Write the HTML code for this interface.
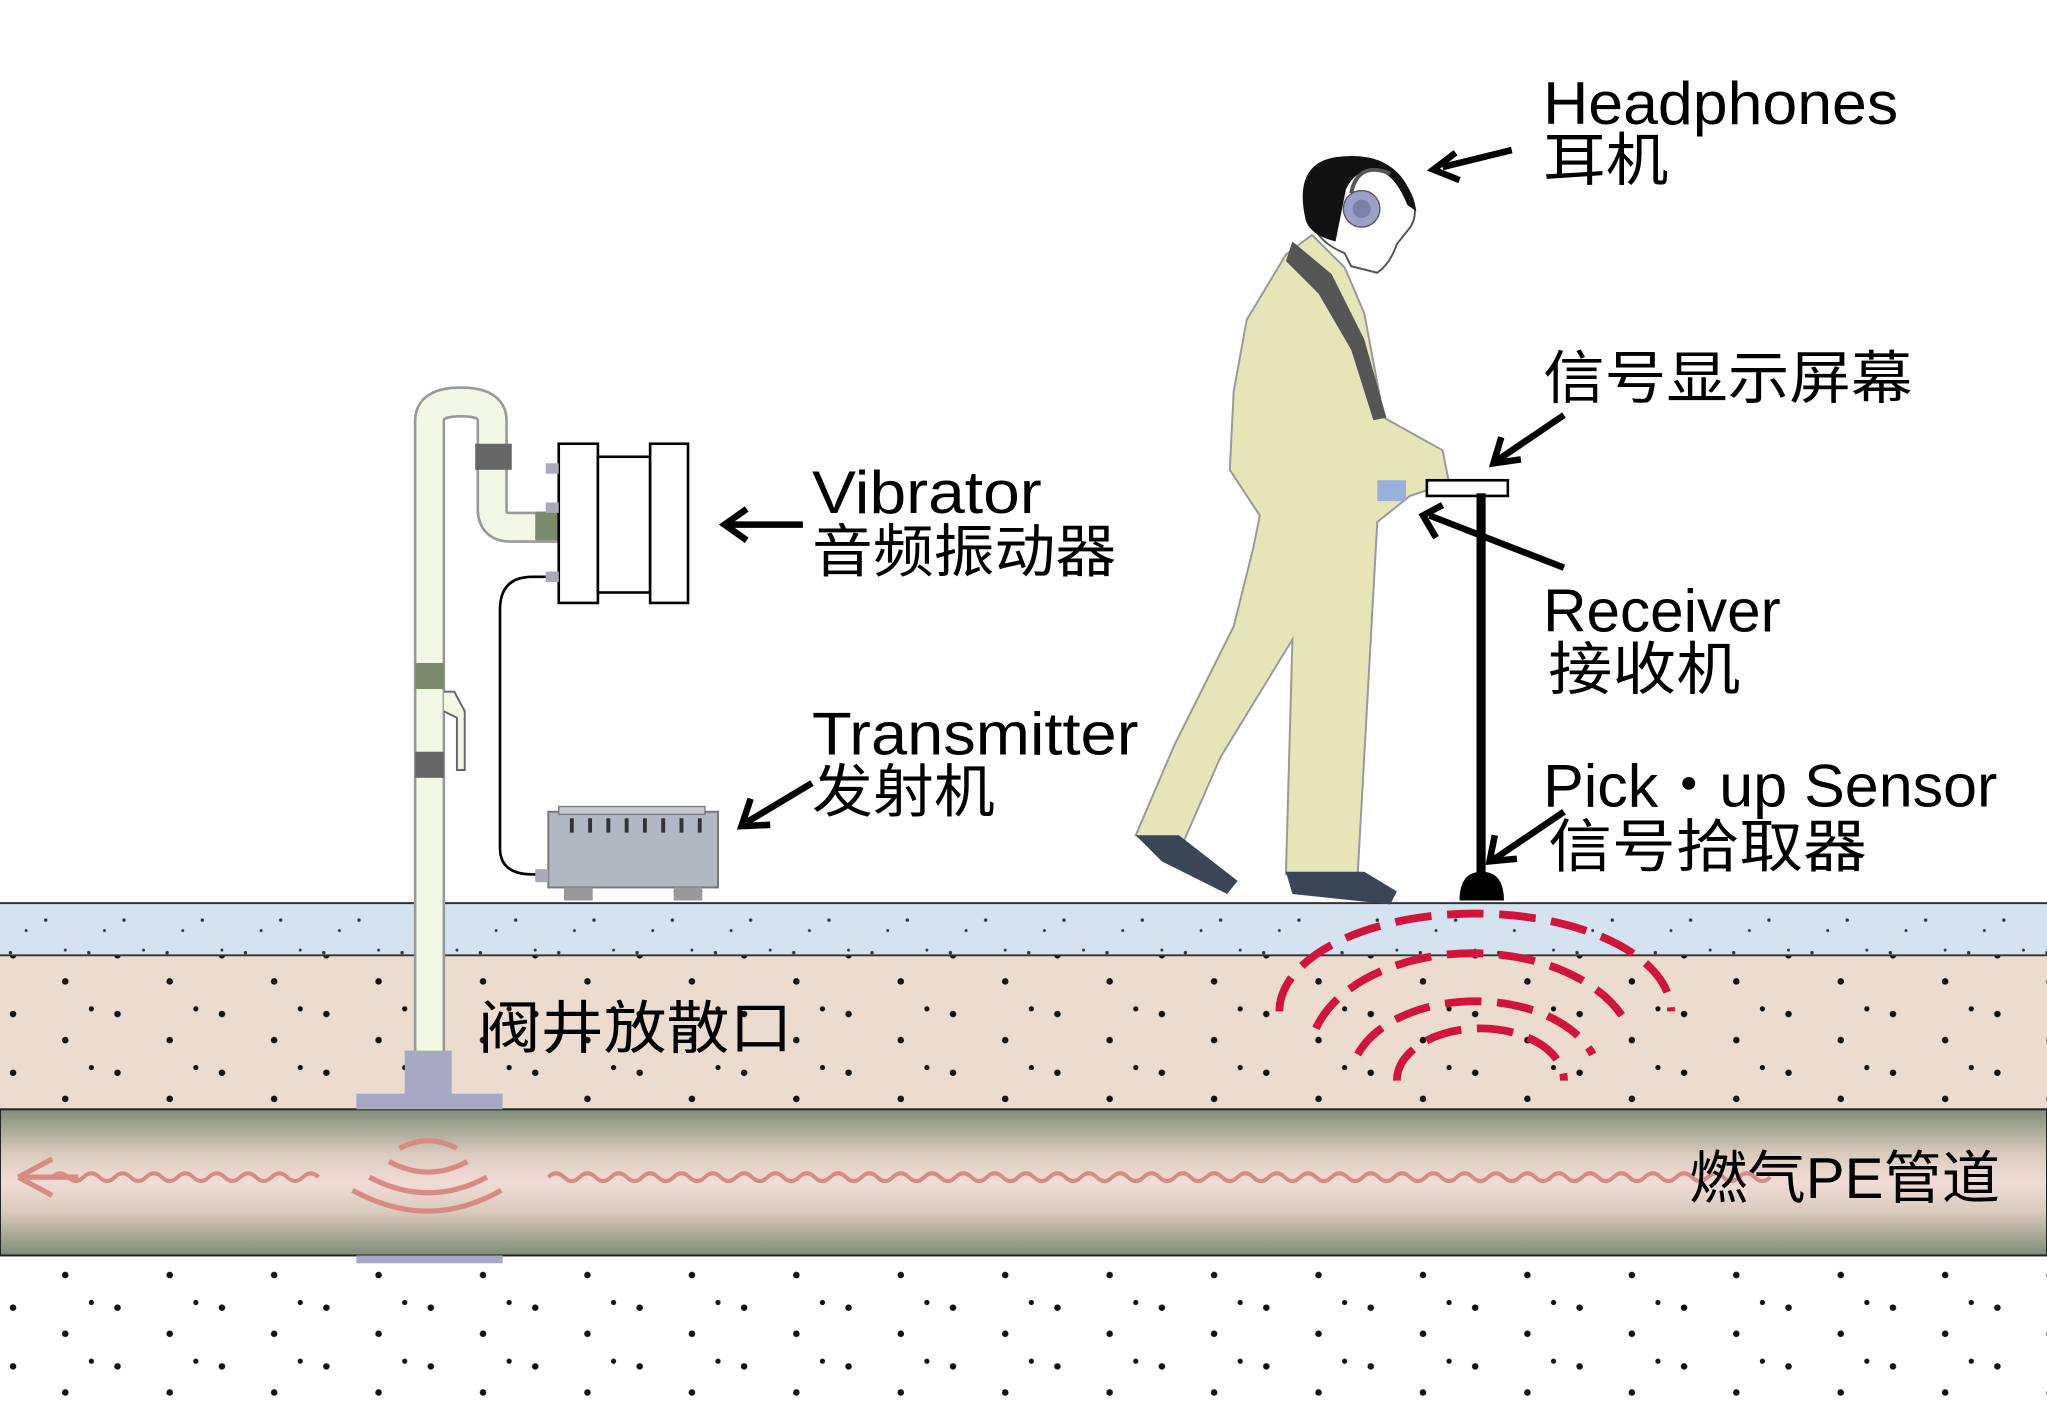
<!DOCTYPE html>
<html><head><meta charset="utf-8"><style>
html,body{margin:0;padding:0;background:#fff;width:2047px;height:1416px;overflow:hidden}
svg{display:block}
text{font-family:"Liberation Sans","Noto Sans CJK SC",sans-serif;fill:#000}
</style></head><body>
<svg width="2047" height="1416" viewBox="0 0 1568 1085" preserveAspectRatio="none" xmlns="http://www.w3.org/2000/svg">
<defs>
<linearGradient id="pg" x1="0" y1="0" x2="0" y2="1">
<stop offset="0" stop-color="#7f8c78"/><stop offset="0.3" stop-color="#d9cbbd"/><stop offset="0.5" stop-color="#f2dcd6"/><stop offset="0.7" stop-color="#d9cbbd"/><stop offset="1" stop-color="#7f8c78"/>
</linearGradient>
<pattern id="dots1" width="60" height="40" patternUnits="userSpaceOnUse">
<circle cx="8" cy="10" r="1.3" fill="#333"/><circle cx="35" cy="25" r="1.3" fill="#333"/><circle cx="50" cy="8" r="1.1" fill="#333"/><circle cx="20" cy="33" r="1.1" fill="#333"/></pattern>
<pattern id="dots2" width="80" height="45" patternUnits="userSpaceOnUse">
<circle cx="10" cy="12" r="2.5" fill="#111"/><circle cx="50" cy="32" r="2.5" fill="#111"/><circle cx="70" cy="8" r="2" fill="#111"/></pattern>
</defs>
<rect width="1568" height="1085" fill="#fff"/>
<rect x="0" y="692" width="1568" height="40" fill="#d5e2ef"/>
<rect x="0" y="692" width="1568" height="40" fill="url(#dots1)"/>
<rect x="0" y="732" width="1568" height="118" fill="#ecdcd0"/>
<rect x="0" y="732" width="1568" height="118" fill="url(#dots2)"/>
<rect x="0" y="962" width="1568" height="123" fill="url(#dots2)"/>
<line x1="0" y1="692" x2="1568" y2="692" stroke="#333" stroke-width="1.5"/>
<line x1="0" y1="732" x2="1568" y2="732" stroke="#333" stroke-width="1.5"/>
<rect x="0" y="850" width="1568" height="112" fill="url(#pg)" stroke="#222" stroke-width="1.5"/>
<!-- pipe waves -->
<path d="M40 902 q6 -6 12 0 t12 0 t12 0 t12 0 t12 0 t12 0 t12 0 t12 0 t12 0 t12 0 t12 0 t12 0 t12 0 t12 0 t12 0 t12 0 t12 0" fill="none" stroke="#d88a84" stroke-width="3"/>
<path d="M14 902 L40 888 M14 902 L40 916 M14 902 L60 902" stroke="#d88a84" stroke-width="4" fill="none"/>
<path d="M420 902 q6 -6 12 0 t12 0 t12 0 t12 0 t12 0 t12 0 t12 0 t12 0 t12 0 t12 0 t12 0 t12 0 t12 0 t12 0 t12 0 t12 0 t12 0 t12 0 t12 0 t12 0 t12 0 t12 0 t12 0 t12 0 t12 0 t12 0 t12 0 t12 0 t12 0 t12 0 t12 0 t12 0 t12 0 t12 0 t12 0 t12 0 t12 0 t12 0 t12 0 t12 0 t12 0 t12 0 t12 0 t12 0 t12 0 t12 0 t12 0 t12 0 t12 0 t12 0 t12 0 t12 0 t12 0 t12 0 t12 0 t12 0 t12 0 t12 0 t12 0 t12 0 t12 0 t12 0 t12 0 t12 0 t12 0 t12 0 t12 0 t12 0 t12 0 t12 0 t12 0 t12 0 t12 0 t12 0 t12 0 t12 0 t12 0 t12 0" fill="none" stroke="#d88a84" stroke-width="3"/>
<g fill="none" stroke="#d88a84" stroke-width="4">
<path d="M306 880 q22 -12 44 0"/>
<path d="M298 890 q30 16 60 0"/>
<path d="M283 902 q45 24 90 0"/>
<path d="M270 912 q58 32 114 0"/>
</g>
<!-- standpipe -->
<rect x="273" y="838" width="112" height="12" fill="#a6a8c4"/>
<rect x="310" y="805" width="36" height="34" fill="#a6a8c4"/>
<rect x="273" y="962" width="112" height="6" fill="#a6a8c4"/>
<path d="M329 805 V322 q0 -14 24 -14 q24 0 24 14 V390 q0 14 14 14 H428" fill="none" stroke="#999" stroke-width="24"/>
<path d="M329 805 V322 q0 -14 24 -14 q24 0 24 14 V390 q0 14 14 14 H428" fill="none" stroke="#f3f8e6" stroke-width="20"/>
<rect x="364" y="340" width="28" height="20" fill="#666"/>
<rect x="410" y="392" width="18" height="22" fill="#7a8a6a"/>
<rect x="318" y="508" width="22" height="20" fill="#7a8a6a"/>
<rect x="318" y="576" width="22" height="20" fill="#666"/>
<path d="M340 530 h8 l8 15 v45 h-6 v-40 l-10 -5" fill="#f3f8e6" stroke="#666" stroke-width="1.5"/>
<!-- vibrator -->
<rect x="428" y="340" width="30" height="122" fill="#fff" stroke="#000" stroke-width="2"/>
<rect x="458" y="350" width="40" height="104" fill="#fff" stroke="#000" stroke-width="2"/>
<rect x="498" y="340" width="29" height="122" fill="#fff" stroke="#000" stroke-width="2"/>
<rect x="418" y="355" width="10" height="8" fill="#aab"/><rect x="418" y="385" width="10" height="8" fill="#aab"/><rect x="418" y="438" width="10" height="8" fill="#aab"/>
<path d="M418 442 h-10 q-25 0 -25 25 V650 q0 20 25 20 h12" fill="none" stroke="#000" stroke-width="2"/>
<!-- transmitter -->
<rect x="420" y="622" width="130" height="58" fill="#b2b8c2" stroke="#777" stroke-width="1.5"/>
<rect x="428" y="618" width="112" height="6" fill="#c8ccd2" stroke="#777"/>
<g stroke="#333" stroke-width="3"><line x1="438" y1="627" x2="438" y2="638"/><line x1="452" y1="627" x2="452" y2="638"/><line x1="466" y1="627" x2="466" y2="638"/><line x1="480" y1="627" x2="480" y2="638"/><line x1="494" y1="627" x2="494" y2="638"/><line x1="508" y1="627" x2="508" y2="638"/><line x1="522" y1="627" x2="522" y2="638"/><line x1="536" y1="627" x2="536" y2="638"/></g>
<rect x="432" y="680" width="22" height="10" fill="#999"/><rect x="516" y="680" width="22" height="10" fill="#999"/>
<rect x="410" y="666" width="10" height="10" fill="#aab"/>
<!-- person -->
<path d="M1005 180 L985 195 L955 245 L945 300 L942 360 L965 395 L960 420 L945 480 L900 570 L870 640 L900 660 L935 580 L990 490 L985 670 L1040 670 L1055 400 L1080 380 L1110 370 L1105 345 L1060 320 L1045 240 L1030 205 Z" fill="#e5e5b8" stroke="#999" stroke-width="1.5"/>
<path d="M990 185 L1020 210 L1045 260 L1062 320 L1052 322 L1035 268 L1010 225 L985 200 Z" fill="#555"/>
<path d="M1002 160 q-5 -35 25 -38 q40 -5 55 30 q5 15 -4 25 l-8 10 q-5 15 -15 22 l-20 -5 l-5 -10 q-25 -10 -28 -34 Z" fill="#fff" stroke="#555" stroke-width="1.5"/>
<path d="M1000 168 q-10 -45 27 -48 q48 -5 58 42 l-7 -5 q-10 -25 -25 -27 q-15 0 -22 15 l-8 40 q-20 -5 -23 -17 Z" fill="#111"/>
<circle cx="1043" cy="160" r="14" fill="#9aa0c8" stroke="#555"/><circle cx="1043" cy="160" r="7" fill="#7a80aa"/>
<path d="M1035 148 q5 -25 30 -15" fill="none" stroke="#555" stroke-width="3"/>
<path d="M870 640 l20 20 l50 25 l8 -10 l-45 -35 Z" fill="#3a4655"/>
<path d="M985 668 l60 0 l25 15 l-5 10 l-75 -8 Z" fill="#3a4655"/>
<rect x="1055" y="368" width="22" height="16" fill="#9ab0dc"/>
<rect x="1093" y="368" width="62" height="12" fill="#fff" stroke="#000" stroke-width="2"/>
<rect x="1131" y="378" width="7" height="295" fill="#000"/>
<path d="M1118 690 q0 -22 17 -22 q17 0 17 22 Z" fill="#000"/>
<!-- red arcs -->
<g fill="none" stroke="#d2143c" stroke-width="6" stroke-dasharray="28 12">
<path d="M1070 828 a64 40 0 0 1 128 0"/>
<path d="M1040 808 a95 60 0 0 1 180 0"/>
<path d="M1008 788 a125 80 0 0 1 240 0"/>
<path d="M980 775 a150 75 0 0 1 300 0"/>
</g>
<!-- arrows -->
<g stroke="#000" stroke-width="5" fill="none">
<line x1="1158" y1="115" x2="1105" y2="128"/><path d="M1115 117 L1098 130 L1118 138"/>
<line x1="1198" y1="318" x2="1148" y2="352"/><path d="M1150 335 L1144 355 L1165 352"/>
<line x1="1198" y1="435" x2="1095" y2="395"/><path d="M1105 387 L1090 395 L1100 412"/>
<line x1="1198" y1="622" x2="1145" y2="658"/><path d="M1145 640 L1141 660 L1162 658"/>
<line x1="615" y1="402" x2="558" y2="402"/><path d="M572 390 L555 402 L572 414"/>
<line x1="622" y1="600" x2="572" y2="630"/><path d="M575 612 L568 633 L590 632"/>
</g>
<!-- labels -->
<g font-size="46" lengthAdjust="spacingAndGlyphs">
<text x="1182" y="95" textLength="272" lengthAdjust="spacingAndGlyphs">Headphones</text>
<text x="1182" y="138" font-size="44" textLength="96" lengthAdjust="spacingAndGlyphs">耳机</text>
<text x="1182" y="305" font-size="44" textLength="283" lengthAdjust="spacingAndGlyphs">信号显示屏幕</text>
<text x="1182" y="484" textLength="182" lengthAdjust="spacingAndGlyphs">Receiver</text>
<text x="1186" y="528" font-size="44" textLength="147" lengthAdjust="spacingAndGlyphs">接收机</text>
<text x="1182" y="618" textLength="348" lengthAdjust="spacingAndGlyphs">Pick・up Sensor</text>
<text x="1186" y="664" font-size="44" textLength="244" lengthAdjust="spacingAndGlyphs">信号拾取器</text>
<text x="622" y="393" textLength="176" lengthAdjust="spacingAndGlyphs">Vibrator</text>
<text x="622" y="438" font-size="44" textLength="233" lengthAdjust="spacingAndGlyphs">音频振动器</text>
<text x="622" y="578" textLength="250" lengthAdjust="spacingAndGlyphs">Transmitter</text>
<text x="622" y="622" font-size="44" textLength="140" lengthAdjust="spacingAndGlyphs">发射机</text>
<text x="366" y="803" font-size="44" textLength="241" lengthAdjust="spacingAndGlyphs">阀井放散口</text>
<text x="1294" y="918" font-size="44" textLength="238" lengthAdjust="spacingAndGlyphs">燃气PE管道</text>
</g>
</svg>
</body></html>
